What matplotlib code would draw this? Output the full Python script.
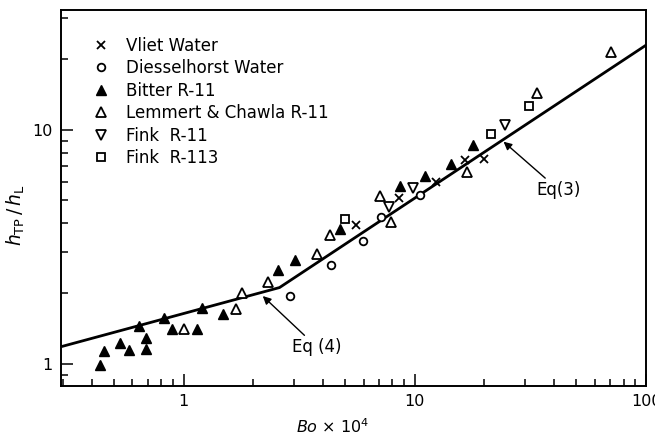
import matplotlib
matplotlib.use('Agg')
import matplotlib.pyplot as plt
from matplotlib.ticker import LogLocator, FixedLocator, FixedFormatter, NullFormatter

# data (Bo x 1e4, h_TP/h_L)
vliet_x = [5.58, 8.56, 12.4, 16.5, 20.0]
vliet_y = [3.93, 5.14, 6.01, 7.44, 7.52]

diess_x = [2.89, 4.36, 5.97, 7.11, 10.5]
diess_y = [1.95, 2.65, 3.36, 4.26, 5.27]

bitter_x = [0.437, 0.453, 0.532, 0.583, 0.686, 0.69, 0.64, 0.826, 0.89, 1.14,
            1.2, 1.477, 2.57, 3.04, 4.74, 8.67, 11.1, 14.4, 17.9]
bitter_y = [0.99, 1.14, 1.226, 1.15, 1.29, 1.16, 1.45, 1.57, 1.41, 1.41,
            1.73, 1.636, 2.52, 2.78, 3.76, 5.76, 6.32, 7.16, 8.63]

lemmert_x = [1.0, 1.69, 1.79, 2.32, 3.77, 4.3, 7.06, 7.9, 16.8, 33.9, 70.4]
lemmert_y = [1.41, 1.71, 2.0, 2.25, 2.95, 3.56, 5.22, 4.03, 6.59, 14.4, 21.5]

fink11_x = [7.72, 9.84, 24.6]
fink11_y = [4.7, 5.63, 10.5]

fink113_x = [4.99, 21.4, 31.3]
fink113_y = [4.17, 9.6, 12.6]

# correlation line, Eq (4) then Eq (3)
line_x = [0.3, 2.6, 100]
line_y = [1.19, 2.12, 23.0]

fig = plt.figure(figsize=(6.55, 4.37), dpi=100)
ax = fig.add_axes([0.0931, 0.1167, 0.8932, 0.8604])

ax.plot(line_x, line_y, color='black', lw=2.0, zorder=2)

ax.plot(vliet_x, vliet_y, 'x', color='black', ms=5.5, mew=1.3, ls='none', label='Vliet Water')
ax.plot(diess_x, diess_y, 'o', mfc='white', mec='black', ms=5.5, mew=1.3, ls='none', label='Diesselhorst Water')
ax.plot(bitter_x, bitter_y, '^', color='black', ms=7.5, ls='none', label='Bitter R-11')
ax.plot(lemmert_x, lemmert_y, '^', mfc='white', mec='black', ms=6.5, mew=1.3, ls='none', label='Lemmert & Chawla R-11')
ax.plot(fink11_x, fink11_y, 'v', mfc='white', mec='black', ms=6.5, mew=1.3, ls='none', label='Fink  R-11')
ax.plot(fink113_x, fink113_y, 's', mfc='white', mec='black', ms=5.5, mew=1.3, ls='none', label='Fink  R-113')

ax.set_xscale('log')
ax.set_yscale('log')
ax.set_xlim(0.295, 100)
ax.set_ylim(0.805, 32.5)

ax.xaxis.set_major_locator(FixedLocator([1, 10, 100]))
ax.xaxis.set_major_formatter(FixedFormatter(['1', '10', '100']))
ax.yaxis.set_major_locator(FixedLocator([1, 10]))
ax.yaxis.set_major_formatter(FixedFormatter(['1', '10']))
ax.xaxis.set_minor_locator(LogLocator(base=10, subs=range(2, 10)))
ax.yaxis.set_minor_locator(LogLocator(base=10, subs=range(2, 10)))
ax.xaxis.set_minor_formatter(NullFormatter())
ax.yaxis.set_minor_formatter(NullFormatter())

ax.tick_params(which='both', direction='in', top=False, right=False, labelsize=11.5, width=1.1)
ax.tick_params(which='major', length=8.5, pad=6)
ax.tick_params(which='minor', length=5)
for s in ax.spines.values():
    s.set_linewidth(1.4)

ax.set_xlabel(r'$Bo$ $\times$ 10$^4$', fontsize=11.5)
ax.xaxis.set_label_coords(0.465, -0.083)
ax.set_ylabel(r'$h_{\rm TP}\,/\,h_{\rm L}$', fontsize=13.5)
ax.yaxis.set_label_coords(-0.058, 0.455)

arrow = dict(arrowstyle='-|>', color='black', lw=1.0, mutation_scale=12, shrinkA=0, shrinkB=0)
ax.annotate('Eq (4)', xy=(2.2, 1.95), xytext=(2.95, 1.18), fontsize=12,
            va='center', ha='left', arrowprops=arrow)
ax.annotate('Eq(3)', xy=(24.2, 8.9), xytext=(33.6, 5.54), fontsize=12,
            va='center', ha='left', arrowprops=arrow)

ax.legend(loc='upper left', bbox_to_anchor=(0.035, 0.96), frameon=False, fontsize=12,
          handlelength=1.0, handletextpad=1.0, labelspacing=0.27, borderaxespad=0.3)

fig.savefig('out.png', dpi=100)
